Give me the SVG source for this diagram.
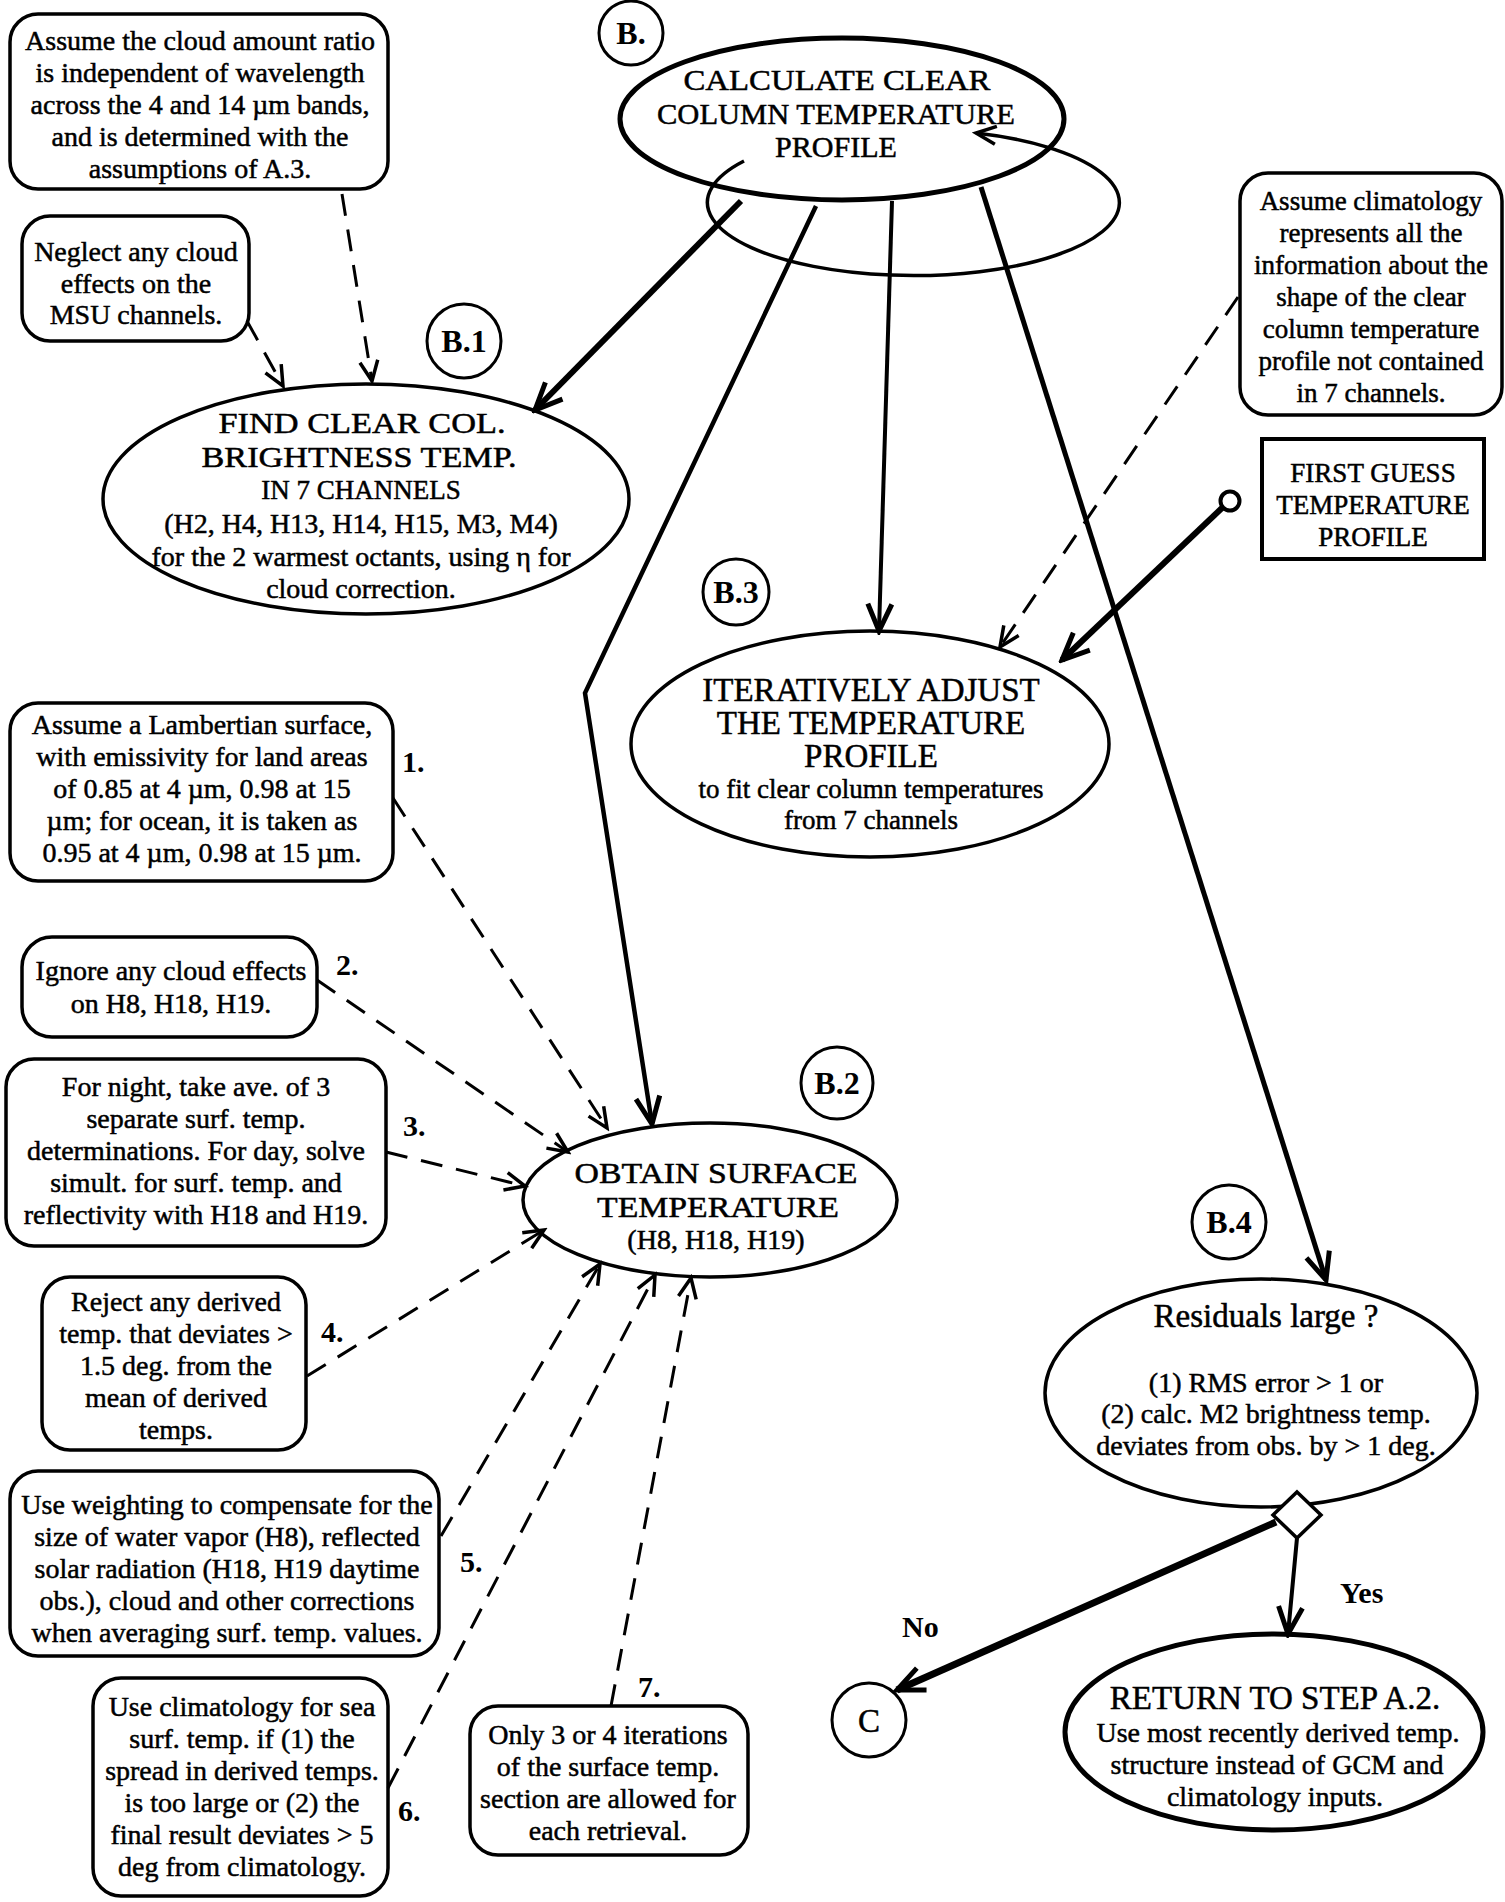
<svg xmlns="http://www.w3.org/2000/svg" width="1505" height="1902" viewBox="0 0 1505 1902">
<style>
text { font-family: "Liberation Serif", "Times New Roman", serif; fill: #000; stroke: #000; stroke-width: 0.5px; }
.t { font-size: 28px; text-anchor: middle; }
.s { font-size: 27px; text-anchor: middle; }
.h { font-size: 33px; text-anchor: middle; }
.h30 { font-size: 30px; text-anchor: middle; }
.lbl { font-size: 30px; font-weight: bold; stroke-width: 0; }
.cl { font-size: 32px; font-weight: bold; text-anchor: middle; stroke-width: 0; }
.box { fill: #fff; stroke: #000; stroke-width: 3.5; }
.ell { fill: #fff; stroke: #000; stroke-width: 3.5; }
.circ { fill: #fff; stroke: #000; stroke-width: 3; }
.dash { fill: none; stroke: #000; stroke-width: 3; stroke-dasharray: 22 14; }
.sol { fill: none; stroke: #000; }
</style>
<defs>
<marker id="ah" viewBox="-26 -13 30 26" refX="0" refY="0" markerWidth="30" markerHeight="26" markerUnits="userSpaceOnUse" orient="auto">
<path d="M -20 -9 L 0 0 L -20 9" fill="none" stroke="#000" stroke-width="3.5" stroke-dasharray="none"/>
</marker>
<marker id="ahL" viewBox="-34 -17 38 34" refX="0" refY="0" markerWidth="38" markerHeight="34" markerUnits="userSpaceOnUse" orient="auto">
<path d="M -27 -12 L 0 0 L -27 12" fill="none" stroke="#000" stroke-width="5" stroke-dasharray="none"/>
</marker>
</defs>
<rect x="0" y="0" width="1505" height="1902" fill="#fff"/>

<g id="n-cloud-ratio">
<rect class="box" x="10" y="14" width="378" height="175" rx="28"/>
<text class="t" x="200" y="50">Assume the cloud amount ratio</text>
<text class="t" x="200" y="82">is independent of wavelength</text>
<text class="t" x="200" y="114">across the 4 and 14 µm bands,</text>
<text class="t" x="200" y="146">and is determined with the</text>
<text class="t" x="200" y="178">assumptions of  A.3.</text>
</g>

<g id="n-neglect">
<rect class="box" x="22" y="216" width="227" height="125" rx="28"/>
<text class="t" x="136" y="261">Neglect any  cloud</text>
<text class="t" x="136" y="293">effects on the</text>
<text class="t" x="136" y="324">MSU channels.</text>
</g>

<g id="n-b">
<circle class="circ" cx="631" cy="33" r="32"/>
<text class="cl" x="631" y="44">B.</text>
</g>

<g id="n-calc">
<ellipse cx="842" cy="119" rx="222" ry="81" fill="#fff" stroke="#000" stroke-width="5"/>
<text class="h30" x="837" y="90" textLength="307" lengthAdjust="spacingAndGlyphs">CALCULATE  CLEAR</text>
<text class="h30" x="836" y="124" textLength="358" lengthAdjust="spacingAndGlyphs">COLUMN  TEMPERATURE</text>
<text class="h30" x="836" y="157" textLength="122" lengthAdjust="spacingAndGlyphs">PROFILE</text>
</g>

<g id="n-b1">
<circle class="circ" cx="464" cy="341" r="37"/>
<text class="cl" x="464" y="352">B.1</text>
</g>

<g id="n-find">
<ellipse class="ell" cx="366" cy="499" rx="263" ry="115"/>
<text class="h30" x="362" y="433" textLength="287" lengthAdjust="spacingAndGlyphs">FIND CLEAR COL.</text>
<text class="h30" x="359" y="467" textLength="315" lengthAdjust="spacingAndGlyphs">BRIGHTNESS TEMP.</text>
<text class="s" x="361" y="499">IN 7 CHANNELS</text>
<text class="t" x="361" y="533">(H2, H4, H13, H14, H15, M3, M4)</text>
<text class="t" x="361" y="566">for the 2 warmest octants, using  η for</text>
<text class="t" x="361" y="598">cloud correction.</text>
</g>

<g id="n-climatology">
<rect class="box" x="1240" y="173" width="262" height="242" rx="28"/>
<text class="s" x="1371" y="210">Assume climatology</text>
<text class="s" x="1371" y="242">represents all the</text>
<text class="s" x="1371" y="274">information about the</text>
<text class="s" x="1371" y="306">shape of the clear</text>
<text class="s" x="1371" y="338">column temperature</text>
<text class="s" x="1371" y="370">profile not contained</text>
<text class="s" x="1371" y="402">in 7 channels.</text>
</g>

<g id="n-first-guess">
<rect x="1262" y="439" width="222" height="120" fill="#fff" stroke="#000" stroke-width="4"/>
<text class="s" x="1373" y="482">FIRST GUESS</text>
<text class="s" x="1373" y="514">TEMPERATURE</text>
<text class="s" x="1373" y="546">PROFILE</text>
</g>

<g id="n-b3">
<circle class="circ" cx="736" cy="592" r="33"/>
<text class="cl" x="736" y="603">B.3</text>
</g>

<g id="n-iter">
<ellipse class="ell" cx="870" cy="744" rx="239" ry="113"/>
<text class="h" x="871" y="701">ITERATIVELY ADJUST</text>
<text class="h" x="871" y="734">THE TEMPERATURE</text>
<text class="h" x="871" y="767">PROFILE</text>
<text class="s" x="871" y="798">to fit clear column temperatures</text>
<text class="s" x="871" y="829">from 7 channels</text>
</g>

<g id="n-lambert">
<rect class="box" x="10" y="703" width="383" height="178" rx="28"/>
<text class="t" x="202" y="734">Assume a Lambertian surface,</text>
<text class="t" x="202" y="766">with emissivity for land areas</text>
<text class="t" x="202" y="798">of 0.85 at 4 µm, 0.98 at 15</text>
<text class="t" x="202" y="830">µm; for ocean, it is taken as</text>
<text class="t" x="202" y="862">0.95 at 4 µm, 0.98 at 15 µm.</text>
</g>

<g id="n-ignore">
<rect class="box" x="22" y="937" width="295" height="100" rx="30"/>
<text class="t" x="171" y="980">Ignore any cloud effects</text>
<text class="t" x="171" y="1013">on H8, H18, H19.</text>
</g>

<g id="n-night">
<rect class="box" x="6" y="1059" width="380" height="187" rx="28"/>
<text class="t" x="196" y="1096">For night, take ave. of 3</text>
<text class="t" x="196" y="1128">separate surf. temp.</text>
<text class="t" x="196" y="1160">determinations.  For day, solve</text>
<text class="t" x="196" y="1192">simult. for surf. temp. and</text>
<text class="t" x="196" y="1224">reflectivity with H18 and H19.</text>
</g>

<g id="n-reject">
<rect class="box" x="42" y="1277" width="264" height="173" rx="28"/>
<text class="t" x="176" y="1311">Reject any derived</text>
<text class="t" x="176" y="1343">temp. that deviates &gt;</text>
<text class="t" x="176" y="1375">1.5 deg. from the</text>
<text class="t" x="176" y="1407">mean of derived</text>
<text class="t" x="176" y="1439">temps.</text>
</g>

<g id="n-weighting">
<rect class="box" x="10" y="1471" width="429" height="185" rx="28"/>
<text class="t" x="227" y="1514">Use weighting to compensate for the</text>
<text class="t" x="227" y="1546">size of water vapor (H8),  reflected</text>
<text class="t" x="227" y="1578">solar radiation (H18, H19 daytime</text>
<text class="t" x="227" y="1610">obs.), cloud and other corrections</text>
<text class="t" x="227" y="1642">when averaging surf. temp. values.</text>
</g>

<g id="n-sea">
<rect class="box" x="93" y="1678" width="295" height="218" rx="28"/>
<text class="t" x="242" y="1716">Use climatology for sea</text>
<text class="t" x="242" y="1748">surf. temp. if (1) the</text>
<text class="t" x="242" y="1780">spread in derived temps.</text>
<text class="t" x="242" y="1812">is too large or (2) the</text>
<text class="t" x="242" y="1844">final result deviates &gt; 5</text>
<text class="t" x="242" y="1876">deg from climatology.</text>
</g>

<g id="n-iterations">
<rect class="box" x="470" y="1706" width="278" height="149" rx="28"/>
<text class="t" x="608" y="1744">Only 3 or 4 iterations</text>
<text class="t" x="608" y="1776">of the surface temp.</text>
<text class="t" x="608" y="1808">section are allowed for</text>
<text class="t" x="608" y="1840">each retrieval.</text>
</g>

<g id="n-obtain">
<ellipse class="ell" cx="710" cy="1200" rx="187" ry="77"/>
<text class="h30" x="716" y="1183" textLength="283" lengthAdjust="spacingAndGlyphs">OBTAIN SURFACE</text>
<text class="h30" x="718" y="1217" textLength="242" lengthAdjust="spacingAndGlyphs">TEMPERATURE</text>
<text class="t" x="716" y="1249">(H8, H18, H19)</text>
</g>

<g id="n-b2">
<circle class="circ" cx="837" cy="1083" r="36"/>
<text class="cl" x="837" y="1094">B.2</text>
</g>

<g id="n-b4">
<circle class="circ" cx="1229" cy="1222" r="37"/>
<text class="cl" x="1229" y="1233">B.4</text>
</g>

<g id="n-residuals">
<ellipse class="ell" cx="1261" cy="1393" rx="216" ry="114"/>
<text class="h" x="1266" y="1327">Residuals large ?</text>
<text class="t" x="1266" y="1392">(1)  RMS error &gt; 1  or</text>
<text class="t" x="1266" y="1423">(2)  calc. M2 brightness temp.</text>
<text class="t" x="1266" y="1455">deviates from obs. by &gt; 1 deg.</text>
</g>

<g id="n-decision">
<polygon points="1297,1492 1321,1515 1297,1538 1273,1515" fill="#fff" stroke="#000" stroke-width="3.5"/>
</g>

<g id="n-c">
<circle class="circ" cx="869" cy="1720" r="37"/>
<text class="h" x="869" y="1732">C</text>
</g>

<g id="n-return">
<ellipse cx="1274" cy="1732" rx="209" ry="98" fill="#fff" stroke="#000" stroke-width="5"/>
<text class="h" x="1275" y="1709">RETURN TO STEP A.2.</text>
<text class="t" x="1278" y="1742">Use most recently derived temp.</text>
<text class="t" x="1277" y="1774">structure instead of GCM and</text>
<text class="t" x="1275" y="1806">climatology inputs.</text>
</g>

<g id="connectors">
<path class="sol" stroke-width="3.5" d="M 744 161 A 206 73 0 1 0 976 133" marker-end="url(#ah)"/>
<line class="sol" stroke-width="6" x1="741" y1="201" x2="535" y2="410" marker-end="url(#ahL)"/>
<polyline class="sol" stroke-width="4.5" points="816,206 585,693 652,1124" marker-end="url(#ahL)"/>
<line class="sol" stroke-width="4" x1="892" y1="201" x2="879" y2="631" marker-end="url(#ahL)"/>
<line class="sol" stroke-width="5" x1="981" y1="187" x2="1326" y2="1280" marker-end="url(#ahL)"/>
<line class="dash" x1="342" y1="194" x2="372" y2="381" marker-end="url(#ah)"/>
<line class="dash" x1="247" y1="321" x2="283" y2="386" marker-end="url(#ah)"/>
<line class="dash" x1="1238" y1="297" x2="1000" y2="647" marker-end="url(#ah)"/>
<line class="sol" stroke-width="6" x1="1223" y1="507" x2="1062" y2="660" marker-end="url(#ahL)"/>
<circle cx="1230" cy="501" r="9.5" fill="#fff" stroke="#000" stroke-width="4"/>
<line class="dash" x1="393" y1="798" x2="607" y2="1128" marker-end="url(#ah)"/>
<line class="dash" x1="317" y1="980" x2="568" y2="1152" marker-end="url(#ah)"/>
<line class="dash" x1="386" y1="1152" x2="525" y2="1186" marker-end="url(#ah)"/>
<line class="dash" x1="307" y1="1376" x2="544" y2="1230" marker-end="url(#ah)"/>
<line class="dash" x1="441" y1="1536" x2="600" y2="1264" marker-end="url(#ah)"/>
<line class="dash" x1="388" y1="1788" x2="655" y2="1275" marker-end="url(#ah)"/>
<line class="dash" x1="611" y1="1706" x2="691" y2="1278" marker-end="url(#ah)"/>
<line class="sol" stroke-width="7" x1="1276" y1="1522" x2="897" y2="1690" marker-end="url(#ahL)"/>
<line class="sol" stroke-width="4" x1="1297" y1="1538" x2="1288" y2="1634" marker-end="url(#ahL)"/>
<text class="lbl" x="402" y="772">1.</text>
<text class="lbl" x="336" y="975">2.</text>
<text class="lbl" x="403" y="1136">3.</text>
<text class="lbl" x="321" y="1342">4.</text>
<text class="lbl" x="460" y="1572">5.</text>
<text class="lbl" x="398" y="1821">6.</text>
<text class="lbl" x="638" y="1697">7.</text>
<text class="lbl" x="902" y="1637">No</text>
<text class="lbl" x="1340" y="1603">Yes</text>
</g>
</svg>
